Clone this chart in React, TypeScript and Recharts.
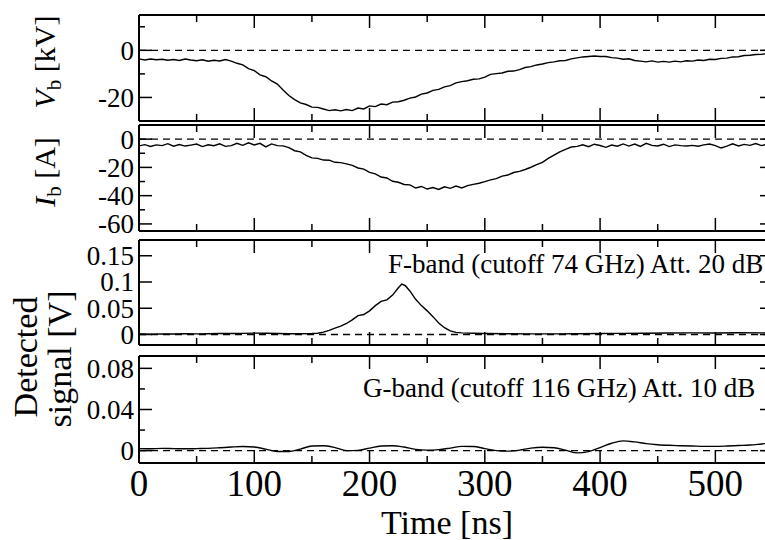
import React from 'react'
import { LineChart, Line, XAxis, YAxis, ReferenceLine } from 'recharts'

// sampling grid of the beam traces (ns)
const beamTime = [
  0, 5, 10, 15, 20, 25, 30, 35, 40, 45,
  50, 55, 60, 65, 70, 75, 80, 85, 90, 95,
  100, 105, 110, 115, 120, 125, 130, 135, 140, 145,
  150, 155, 160, 165, 170, 175, 180, 185, 190, 195,
  200, 205, 210, 215, 220, 225, 230, 235, 240, 245,
  250, 255, 260, 265, 270, 275, 280, 285, 290, 295,
  300, 305, 310, 315, 320, 325, 330, 335, 340, 345,
  350, 355, 360, 365, 370, 375, 380, 385, 390, 395,
  400, 405, 410, 415, 420, 425, 430, 435, 440, 445,
  450, 455, 460, 465, 470, 475, 480, 485, 490, 495,
  500, 505, 510, 515, 520, 525, 530, 535, 540, 545,
  550,
]

// beam voltage Vb [kV]
const beamVoltage = [
  -3.6, -4.1, -3.7, -4.0, -3.8, -4.2, -3.9, -4.3, -3.7, -4.1,
  -4.4, -4.0, -4.6, -4.2, -4.5, -3.9, -4.6, -5.5, -6.2, -7.8,
  -8.6, -10.4, -11.2, -13.0, -14.3, -16.8, -19.2, -20.9, -22.3, -23.0,
  -24.1, -24.2, -24.9, -25.6, -25.2, -25.7, -25.1, -25.6, -24.5, -24.9,
  -23.6, -23.9, -22.8, -23.1, -22.0, -21.8, -21.2, -20.3, -19.8, -18.6,
  -18.1, -17.0, -16.6, -15.5, -15.0, -13.8, -13.3, -12.9, -12.3, -12.1,
  -11.4, -10.2, -9.9, -9.6, -8.9, -8.8, -8.2, -7.3, -6.9, -6.2,
  -5.8, -5.2, -4.9, -4.4, -4.3, -3.6, -3.2, -2.8, -2.6, -2.4,
  -2.6, -2.6, -3.1, -3.3, -3.8, -3.6, -4.3, -4.6, -4.9, -4.5,
  -5.0, -4.7, -5.0, -4.6, -4.9, -4.4, -4.6, -4.1, -4.3, -3.8,
  -3.9, -3.4, -3.3, -2.8, -2.7, -2.2, -2.1, -1.8, -1.7, -1.4,
  -1.5,
]

// beam current Ib [A]
const beamCurrent = [
  -4.8, -3.9, -5.2, -4.1, -4.6, -3.2, -5.0, -3.8, -4.9, -4.2,
  -3.5, -5.3, -4.0, -4.7, -3.3, -5.1, -4.6, -2.9, -4.4, -2.6,
  -4.1, -3.0, -5.5, -3.4, -4.6, -4.8, -6.0, -8.2, -9.0, -11.5,
  -13.3, -13.6, -14.8, -14.9, -16.4, -16.6, -17.5, -18.6, -20.4, -21.2,
  -23.5, -24.6, -26.8, -27.5, -29.8, -30.5, -32.1, -32.4, -34.6, -33.5,
  -35.3, -34.2, -35.6, -33.7, -34.8, -33.2, -34.5, -32.9, -32.0, -31.2,
  -30.1, -28.8, -27.9, -26.2, -25.4, -23.6, -22.8, -21.5, -19.9, -18.0,
  -16.4, -13.6, -11.3, -9.0, -7.2, -5.6, -5.1, -4.0, -5.4, -3.6,
  -4.5, -5.8, -4.2, -5.0, -3.4, -4.9, -3.5, -5.2, -3.0, -4.4,
  -4.8, -3.6, -5.3, -4.1, -4.6, -4.9, -4.4, -5.0, -4.1, -3.5,
  -4.6, -6.3, -4.9, -3.3, -4.8, -3.7, -4.4, -3.1, -4.6, -3.5,
  -3.9,
]

// F-band detector
const fBandTime = [
  0, 10, 20, 30, 40, 50, 60, 70, 80, 90, 100, 110, 120, 130, 140, 150,
  155, 160, 165, 170, 175, 180, 185, 190, 195, 200, 205, 210, 215, 220, 225, 228,
  231, 235, 240, 245, 250, 255, 260, 265, 270, 275, 280, 290, 300,
  320, 340, 360, 380, 400, 420, 440, 460, 480, 500, 520, 540, 550,
]
const fBandSignal = [
  0.001, 0.0008, 0.0012, 0.001, 0.0014, 0.0012, 0.0015, 0.0018, 0.002, 0.0022, 0.0027, 0.0024, 0.0018, 0.0015, 0.0015, 0.0018,
  0.0025, 0.0045, 0.008, 0.012, 0.016, 0.021, 0.028, 0.036, 0.038, 0.045, 0.055, 0.063, 0.066, 0.075, 0.089, 0.096,
  0.093, 0.083, 0.067, 0.055, 0.045, 0.034, 0.022, 0.013, 0.007, 0.004, 0.003, 0.0025, 0.002,
  0.0015, 0.0012, 0.0012, 0.0015, 0.0018, 0.0022, 0.0025, 0.0028, 0.003, 0.003, 0.0032, 0.003, 0.003,
]

// G-band detector
const gBandTime = [
  0, 10, 20, 30, 40, 50, 60, 70, 80, 90,
  100, 110, 120, 130, 140, 150, 160, 170, 180, 190,
  200, 210, 220, 230, 240, 250, 260, 270, 280, 290,
  300, 310, 320, 330, 340, 350, 360, 370, 380, 390,
  400, 410, 420, 430, 440, 450, 460, 470, 480, 490,
  500, 510, 520, 530, 540, 550,
]
const gBandSignal = [
  0.002, 0.0018, 0.0022, 0.002, 0.0018, 0.002, 0.0022, 0.0028, 0.0035, 0.004,
  0.0035, 0.0015, -0.0008, -0.0008, 0.0015, 0.0045, 0.0048, 0.003, 0.0, 0.0003,
  0.0025, 0.0045, 0.0048, 0.0035, 0.0012, 0.0005, 0.001, 0.0025, 0.0042, 0.004,
  0.002, 0.0, -0.0005, 0.0005, 0.0025, 0.0033, 0.0028, 0.0005, -0.0022, -0.001,
  0.003, 0.0072, 0.0095, 0.0085, 0.0068, 0.0058, 0.0052, 0.0048, 0.0045, 0.0042,
  0.0042, 0.0045, 0.005, 0.0055, 0.0065, 0.0075,
]

const timeTicks = [0, 50, 100, 150, 200, 250, 300, 350, 400, 450, 500]

const FONT = '"Liberation Serif", "Times New Roman", serif'
const TXT = { fontFamily: FONT, fill: '#000' }
const AXIS_LINE = { stroke: '#000', strokeWidth: 2 }
const PLOT_LEFT = 139
const PLOT_RIGHT = 773

// inward tick on a horizontal frame edge; ay is the edge position
const XTick = (props: any) => {
  const { x, payload, dir, ay, labels } = props
  const v = payload.value
  const major = v % 100 === 0
  return (
    <g>
      <line x1={x} y1={ay} x2={x} y2={ay + dir * (major ? 13 : 7)} stroke="#000" strokeWidth={1.5} />
      {labels && major && (
        <text x={x} y={ay + 33} textAnchor="middle" fontSize={37} style={TXT}>
          {v}
        </text>
      )}
    </g>
  )
}

// inward tick on a vertical frame edge; ax is the edge position
const YTick = (props: any) => {
  const { y, payload, dir, ax, major, labels } = props
  const v = payload.value
  const isMajor = major.includes(v)
  return (
    <g>
      <line x1={ax} y1={y} x2={ax + dir * (isMajor ? 13 : 6)} y2={y} stroke="#000" strokeWidth={1.5} />
      {labels && isMajor && (
        <text x={ax - 5} y={y} dy="0.35em" textAnchor="end" fontSize={27} style={TXT}>
          {String(v)}
        </text>
      )}
    </g>
  )
}

interface PanelProps {
  data: { t: number; v: number }[]
  top: number
  bottom: number
  domain: [number, number]
  yTicks: number[]
  yMajor: number[]
  timeLabels?: boolean
  smooth?: boolean
  children?: React.ReactNode
}

const Panel = ({ data, top, bottom, domain, yTicks, yMajor, timeLabels, smooth, children }: PanelProps) => (
  <div style={{ position: 'absolute', left: 0, top: 0 }}>
    <LineChart width={780} height={540} data={data}
      margin={{ top: top - 1, bottom: 540 - bottom - 1, left: 0, right: 780 - PLOT_RIGHT - 1 }}>
      <XAxis xAxisId="b" dataKey="t" type="number" domain={[0, 550]} ticks={timeTicks} interval={0}
        height={1} tickLine={false} axisLine={AXIS_LINE} allowDataOverflow
        tick={<XTick dir={-1} ay={bottom} labels={timeLabels} />} />
      <XAxis xAxisId="t" orientation="top" dataKey="t" type="number" domain={[0, 550]} ticks={timeTicks} interval={0}
        height={1} tickLine={false} axisLine={AXIS_LINE} allowDataOverflow
        tick={<XTick dir={1} ay={top} />} />
      <YAxis yAxisId="l" type="number" domain={domain} ticks={yTicks} interval={0} width={PLOT_LEFT}
        tickLine={false} axisLine={AXIS_LINE} allowDataOverflow
        tick={<YTick dir={1} ax={PLOT_LEFT} major={yMajor} labels />} />
      <YAxis yAxisId="r" orientation="right" type="number" domain={domain} ticks={yTicks} interval={0} width={1}
        tickLine={false} axisLine={AXIS_LINE} allowDataOverflow
        tick={<YTick dir={-1} ax={PLOT_RIGHT} major={yMajor} />} />
      <ReferenceLine xAxisId="b" yAxisId="l" y={0} stroke="#000" strokeWidth={1.3} strokeDasharray="7 5" />
      <Line xAxisId="b" yAxisId="l" dataKey="v" type={smooth ? 'monotone' : 'linear'} stroke="#000"
        strokeWidth={1.4} dot={false} isAnimationActive={false} />
      {children}
    </LineChart>
  </div>
)

export default function App() {
  const vData = beamTime.map((t, i) => ({ t, v: beamVoltage[i] }))
  const iData = beamTime.map((t, i) => ({ t, v: beamCurrent[i] }))
  const fData = fBandTime.map((t, i) => ({ t, v: fBandSignal[i] }))
  const gData = gBandTime.map((t, i) => ({ t, v: gBandSignal[i] }))

  return (
    <div style={{ position: 'fixed', left: 0, top: 0, width: 765, height: 540, overflow: 'hidden', background: '#fff' }}>
      <Panel data={vData} top={15} bottom={121} domain={[-30, 15]} yTicks={[-20, -10, 0, 10]} yMajor={[-20, 0]}>
        <text transform="translate(55,62) rotate(-90)" textAnchor="middle" fontSize={30} style={TXT}>
          <tspan fontStyle="italic">V</tspan>
          <tspan dy={6} fontSize={21}>b</tspan>
          <tspan dy={-6}> [kV]</tspan>
        </text>
      </Panel>
      <Panel data={iData} top={125} bottom={231} domain={[-65, 10]} yTicks={[-60, -50, -40, -30, -20, -10, 0]}
        yMajor={[-60, -40, -20, 0]}>
        <text transform="translate(55,172) rotate(-90)" textAnchor="middle" fontSize={30} style={TXT}>
          <tspan fontStyle="italic">I</tspan>
          <tspan dy={6} fontSize={21}>b</tspan>
          <tspan dy={-6}> [A]</tspan>
        </text>
      </Panel>
      <Panel data={fData} top={240} bottom={345} domain={[-0.02, 0.18]} yTicks={[0, 0.05, 0.1, 0.15]}
        yMajor={[0, 0.05, 0.1, 0.15]}>
        <text x={388} y={273} fontSize={27} style={TXT}>F-band (cutoff 74 GHz) Att. 20 dB</text>
        <text transform="translate(37,357) rotate(-90)" textAnchor="middle" fontSize={34} style={TXT}>Detected</text>
        <text transform="translate(71,359) rotate(-90)" textAnchor="middle" fontSize={34} style={TXT}>signal [V]</text>
      </Panel>
      <Panel data={gData} top={356} bottom={463} domain={[-0.012, 0.092]} yTicks={[0, 0.02, 0.04, 0.06, 0.08]}
        yMajor={[0, 0.04, 0.08]} timeLabels smooth>
        <text x={363} y={397} fontSize={27} style={TXT}>G-band (cutoff 116 GHz) Att. 10 dB</text>
        <text x={447} y={534} textAnchor="middle" fontSize={34} style={TXT}>Time [ns]</text>
      </Panel>
    </div>
  )
}
